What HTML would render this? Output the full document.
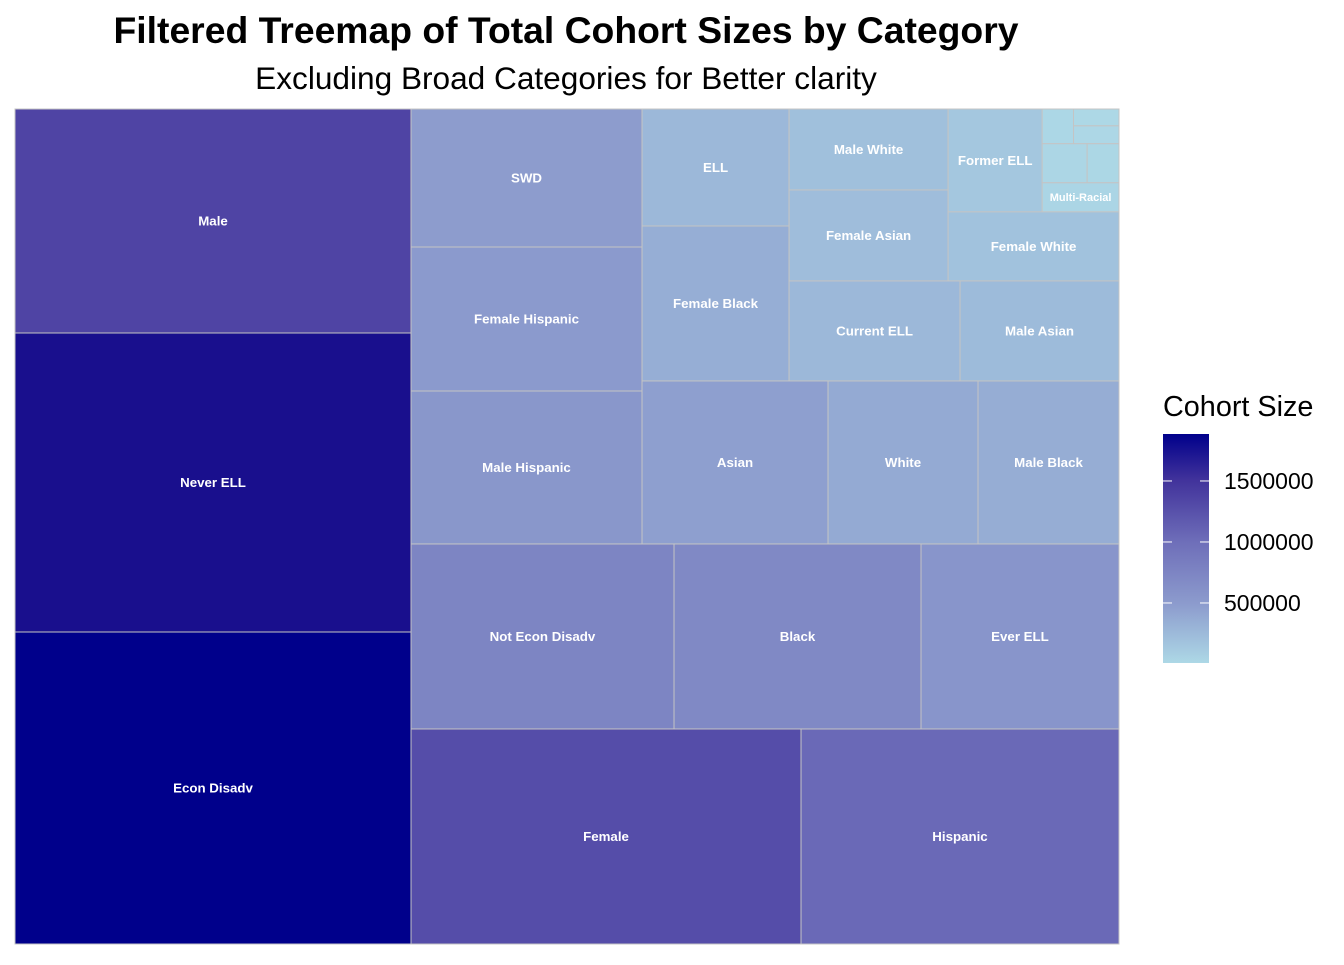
<!DOCTYPE html>
<html><head><meta charset="utf-8"><style>
body{margin:0;background:#fff;width:1344px;height:960px;overflow:hidden;font-family:"Liberation Sans",sans-serif}
</style></head><body>
<svg id="chart" width="1344" height="960">
<text x="566" y="43" text-anchor="middle" font-size="37.3" font-weight="bold">Filtered Treemap of Total Cohort Sizes by Category</text>
<text x="566" y="89" text-anchor="middle" font-size="31.6">Excluding Broad Categories for Better clarity</text>
<g id="cells"></g>
<g id="legend">
<text x="1163" y="416" font-size="28.8">Cohort Size</text>
<defs><linearGradient id="grad" x1="0" y1="1" x2="0" y2="0">
<stop offset="0" stop-color="#add8e6"/><stop offset="0.26" stop-color="#8c9bcd"/><stop offset="0.53" stop-color="#6e6eb9"/><stop offset="0.8" stop-color="#41329b"/><stop offset="1" stop-color="#00008b"/></linearGradient></defs>
<rect x="1163" y="434" width="46" height="229" fill="url(#grad)"/>
<g id="ticks"></g>
</g>
</svg>
<script>
const labels=["Male","Never ELL","Econ Disadv","Female","Hispanic","Not Econ Disadv","Black","Ever ELL","SWD","Female Hispanic","Male Hispanic","Asian","White","Male Black","ELL","Female Black","Current ELL","Male Asian","Male White","Female Asian","Female White","Former ELL","Multi-Racial","Native American","Female Multi-Racial","Male Multi-Racial","Female Native American","Male Native American"];
const values=[1353600,1806800,1885400,1279600,1043300,742500,697300,559000,486500,507600,539300,462700,373100,350700,262500,347700,261000,242600,196500,220800,180100,147700,34100,16600,11700,12400,26800,19000];
const tickValues=[500000,1000000,1500000];
const tickLabels=["500000","1000000","1500000"];
const legendMin=8000, legendMax=1885000;

const H=(...c)=>({d:'h',c}), V=(...c)=>({d:'v',c});
const tree=H(V(0,1,2),
 V(H(V(8,9,10),
     V(H(V(14,15),
         V(H(V(18,19),
             V(H(21,V(V(H(23,V(24,25)),H(26,27)),22)),20)),
           H(16,17))),
       H(11,12,13))),
   H(5,6,7),H(3,4)));
function sum(n){return typeof n==='number'?values[n]:n.c.reduce((a,b)=>a+sum(b),0);}
const stops=[[0,[173,216,230]],[0.26,[140,155,205]],[0.53,[110,110,185]],[0.8,[65,50,155]],[0.97,[22,12,140]],[1,[0,0,139]]];
function color(v){let t=Math.max(0,Math.min(1,(v-legendMin)/(legendMax-legendMin)));
 for(let i=1;i<stops.length;i++){if(t<=stops[i][0]){const[a,ca]=stops[i-1],[b,cb]=stops[i];const f=(t-a)/(b-a);
 return 'rgb('+ca.map((x,j)=>Math.round(x+(cb[j]-x)*f)).join(',')+')';}}return 'rgb(0,0,139)';}
const g=document.getElementById('cells');const NS='http://www.w3.org/2000/svg';
function lay(n,x,y,w,h){
 if(typeof n==='number'){
  const r=document.createElementNS(NS,'rect');
  r.setAttribute('x',x);r.setAttribute('y',y);r.setAttribute('width',w);r.setAttribute('height',h);
  r.setAttribute('fill',color(values[n]));r.setAttribute('stroke','#c4c4c4');r.setAttribute('stroke-width','1');
  
  
  g.appendChild(r);
  if(w>70&&h>25){const t=document.createElementNS(NS,'text');
   const fs=w<90?11:13.3;
   t.setAttribute('x',x+w/2);t.setAttribute('y',y+h/2+fs*0.35);t.setAttribute('text-anchor','middle');
   t.setAttribute('font-size',fs);t.setAttribute('font-weight','bold');t.setAttribute('fill','#fff');
   t.textContent=labels[n];
   
   
   g.appendChild(t);}
  return;}
 const tot=sum(n);let off=0;
 for(const c of n.c){const f=sum(c)/tot;
  if(n.d==='h'){lay(c,x+off,y,w*f,h);off+=w*f;}else{lay(c,x,y+off,w,h*f);off+=h*f;}}
}
lay(tree,15,109,1104,835);
const tg=document.getElementById('ticks');
tickValues.forEach((v,i)=>{const y=663-(v-legendMin)/(legendMax-legendMin)*229;
 [[1163,1172],[1200,1209]].forEach(([a,b])=>{const l=document.createElementNS(NS,'line');
  l.setAttribute('x1',a);l.setAttribute('x2',b);l.setAttribute('y1',y);l.setAttribute('y2',y);l.setAttribute('stroke','#fff');
  
  
  tg.appendChild(l);});
 const t=document.createElementNS(NS,'text');t.setAttribute('x',1224);t.setAttribute('y',y+8);t.setAttribute('font-size',23);
 t.textContent=tickLabels[i];
 
 
 tg.appendChild(t);});
</script>
</body></html>
